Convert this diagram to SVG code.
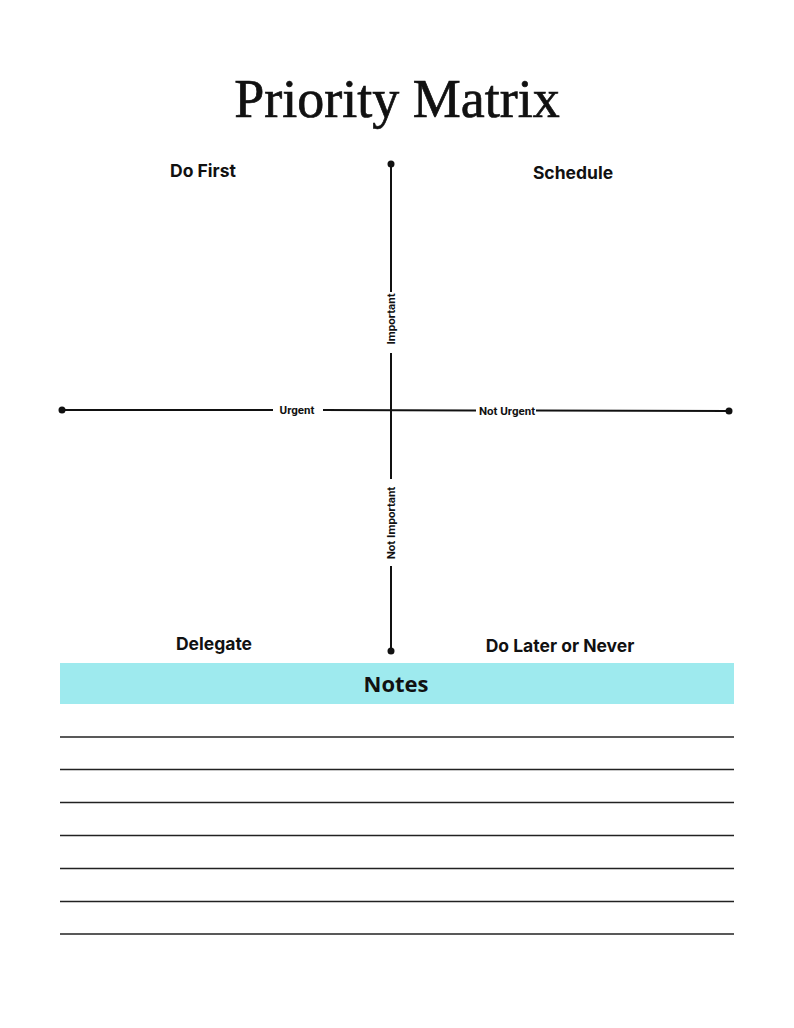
<svg xmlns="http://www.w3.org/2000/svg" width="794" height="1028" viewBox="0 0 794 1028">
<style>
.title{font-family:"Liberation Serif","DejaVu Serif",serif;font-size:54px;fill:#111;stroke:#111;stroke-width:0.7}
.q{font-family:Inter,"Liberation Sans",sans-serif;font-weight:700;font-size:17.5px;fill:#111;text-anchor:middle}
.ax{font-family:Roboto,"Liberation Sans",sans-serif;font-weight:700;font-size:11.5px;fill:#111;text-anchor:middle}
.axl{stroke:#111;stroke-width:2;fill:none}
.rule{stroke:#222;stroke-width:1.3}
.notes{font-family:"Open Sans","Noto Sans",sans-serif;font-weight:700;font-size:22px;fill:#111;text-anchor:middle}
</style>
<rect width="794" height="1028" fill="#fff"/>
<g id="title"><text class="title" x="397" y="117" text-anchor="middle">Priority Matrix</text></g>
<g id="connectors">
<line class="axl" x1="391" y1="164" x2="391" y2="292"/>
<line class="axl" x1="391" y1="353" x2="391" y2="479"/>
<line class="axl" x1="391" y1="566" x2="391" y2="651"/>
<line class="axl" x1="62" y1="410" x2="273" y2="410"/>
<line class="axl" x1="323" y1="410" x2="476" y2="410.5"/>
<line class="axl" x1="536" y1="410.5" x2="729" y2="411"/>
<circle cx="391" cy="164" r="3.5" fill="#111"/>
<circle cx="391" cy="651" r="3.5" fill="#111"/>
<circle cx="62" cy="410" r="3.5" fill="#111"/>
<circle cx="729" cy="411" r="3.5" fill="#111"/>
</g>
<g id="axis-labels">
<text class="ax" x="297" y="414">Urgent</text>
<text class="ax" x="507" y="415">Not Urgent</text>
<text class="ax" transform="translate(395 319) rotate(-90)">Important</text>
<text class="ax" transform="translate(395 523) rotate(-90)">Not Important</text>
</g>
<g id="do-first"><text class="q" x="203" y="177">Do First</text></g>
<g id="schedule"><text class="q" x="573" y="179">Schedule</text></g>
<g id="delegate"><text class="q" x="214" y="650">Delegate</text></g>
<g id="do-later"><text class="q" x="560" y="652">Do Later or Never</text></g>
<g id="notes">
<rect x="60" y="663" width="674" height="41" fill="#9eeaee"/>
<text class="notes" x="396" y="692">Notes</text>
<line class="rule" x1="60" y1="737" x2="734" y2="737"/>
<line class="rule" x1="60" y1="769.5" x2="734" y2="769.5"/>
<line class="rule" x1="60" y1="802.5" x2="734" y2="802.5"/>
<line class="rule" x1="60" y1="835.5" x2="734" y2="835.5"/>
<line class="rule" x1="60" y1="868.5" x2="734" y2="868.5"/>
<line class="rule" x1="60" y1="901.5" x2="734" y2="901.5"/>
<line class="rule" x1="60" y1="934" x2="734" y2="934"/>
</g>
</svg>
